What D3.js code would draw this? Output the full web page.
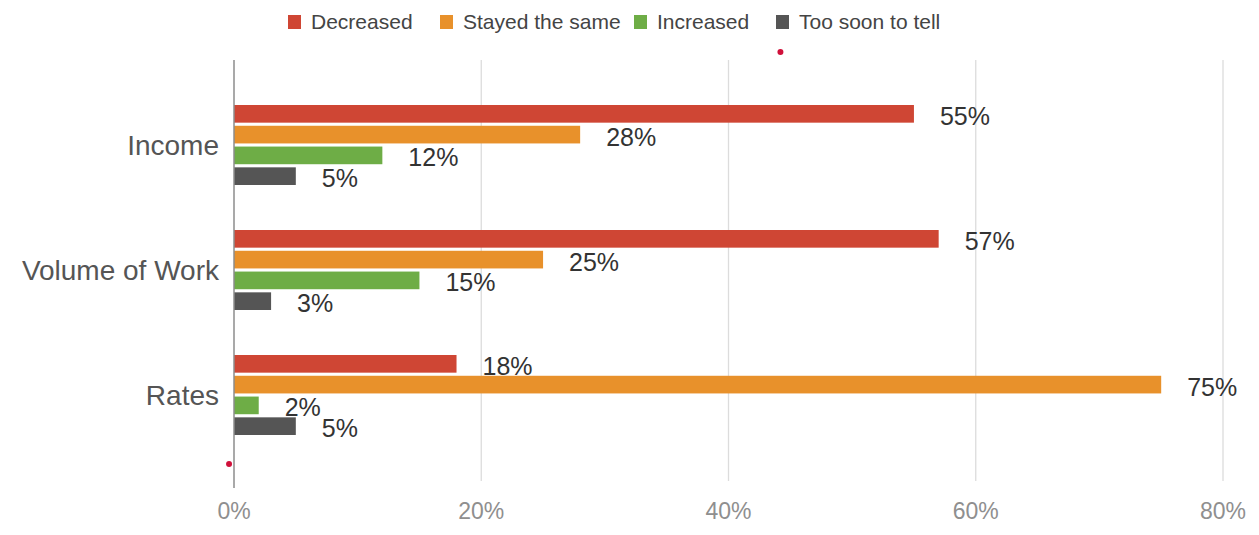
<!DOCTYPE html>
<html>
<head>
<meta charset="utf-8">
<script src="https://cdn.jsdelivr.net/npm/d3@7"></script>
<style>
  body { margin: 0; background: #fff; }
  svg { display: block; font-family: "Liberation Sans", Arial, sans-serif; }
</style>
</head>
<body>
<svg id="chart" width="1259" height="535"></svg>
<script>
const categories = ["Income", "Volume of Work", "Rates"]
const seriesNames = ["Decreased", "Stayed the same", "Increased", "Too soon to tell"]
const decreased = [55, 57, 18]
const stayedSame = [28, 25, 75]
const increased = [12, 15, 2]
const tooSoon = [5, 3, 5]
const tickValues = [0, 20, 40, 60, 80]

const series = [decreased, stayedSame, increased, tooSoon]
const colors = ["#cf4634", "#e8912b", "#6ead46", "#555555"]

const svg = d3.select("#chart")

const xScale = d3.scaleLinear()
    .domain([0, 80])
    .range([234, 1223])
const yScale = d3.scaleBand()
    .domain(categories)
    .range([60, 480])
    .padding(0.36)
const inner = d3.scaleBand()
    .domain(d3.range(series.length))
    .range([0, yScale.bandwidth()])
    .paddingInner(0.15)

// grid
svg.append("g")
    .selectAll("line")
    .data(tickValues.slice(1))
    .join("line")
    .attr("x1", d => xScale(d)).attr("x2", d => xScale(d))
    .attr("y1", 60).attr("y2", 481)
    .attr("stroke", "#dcdcdc")
    .attr("stroke-width", 1.3)

// x tick labels
svg.append("g")
    .selectAll("text")
    .data(tickValues)
    .join("text")
    .attr("x", d => xScale(d))
    .attr("y", 519)
    .attr("text-anchor", "middle")
    .attr("font-size", 23)
    .attr("fill", "#8f8f8f")
    .text(d => d + "%")

// bars
const rows = []
categories.forEach((c, ci) => {
    series.forEach((s, si) => rows.push({cat: c, si: si, v: s[ci]}))
})

svg.append("g")
    .selectAll("rect")
    .data(rows)
    .join("rect")
    .attr("x", xScale(0))
    .attr("y", d => yScale(d.cat) + inner(d.si))
    .attr("width", d => xScale(d.v) - xScale(0))
    .attr("height", inner.bandwidth())
    .attr("fill", d => colors[d.si])

// value labels
svg.append("g")
    .selectAll("text")
    .data(rows)
    .join("text")
    .attr("x", d => xScale(d.v) + 26)
    .attr("y", d => yScale(d.cat) + inner(d.si) + inner.bandwidth() / 2 + 11)
    .attr("font-size", 25)
    .attr("fill", "#333")
    .text(d => d.v + "%")

// y axis line
svg.append("line")
    .attr("x1", xScale(0)).attr("x2", xScale(0))
    .attr("y1", 60).attr("y2", 488)
    .attr("stroke", "#8c8c8c")
    .attr("stroke-width", 1.5)

// category labels
svg.append("g")
    .selectAll("text")
    .data(categories)
    .join("text")
    .attr("x", xScale(0) - 15)
    .attr("y", d => yScale(d) + yScale.bandwidth() / 2 + 10)
    .attr("text-anchor", "end")
    .attr("font-size", 28)
    .attr("fill", "#555")
    .text(d => d)

// legend
const legendX = [288, 440, 634, 776]
const legend = svg.append("g")
    .selectAll("g")
    .data(seriesNames)
    .join("g")
    .attr("transform", (d, i) => `translate(${legendX[i]},22)`)
legend.append("rect")
    .attr("x", 0).attr("y", -7)
    .attr("width", 13).attr("height", 14)
    .attr("fill", (d, i) => colors[i])
legend.append("text")
    .attr("x", 23).attr("y", 7)
    .attr("font-size", 21)
    .attr("fill", "#444")
    .text(d => d)

// two little red specks that sit on the original picture
const specks = [[44.2, 52], [-0.4, 464]]
svg.append("g")
    .selectAll("circle")
    .data(specks)
    .join("circle")
    .attr("cx", d => xScale(d[0]))
    .attr("cy", d => d[1])
    .attr("r", 3)
    .attr("fill", "#d0103a")
</script>
</body>
</html>
